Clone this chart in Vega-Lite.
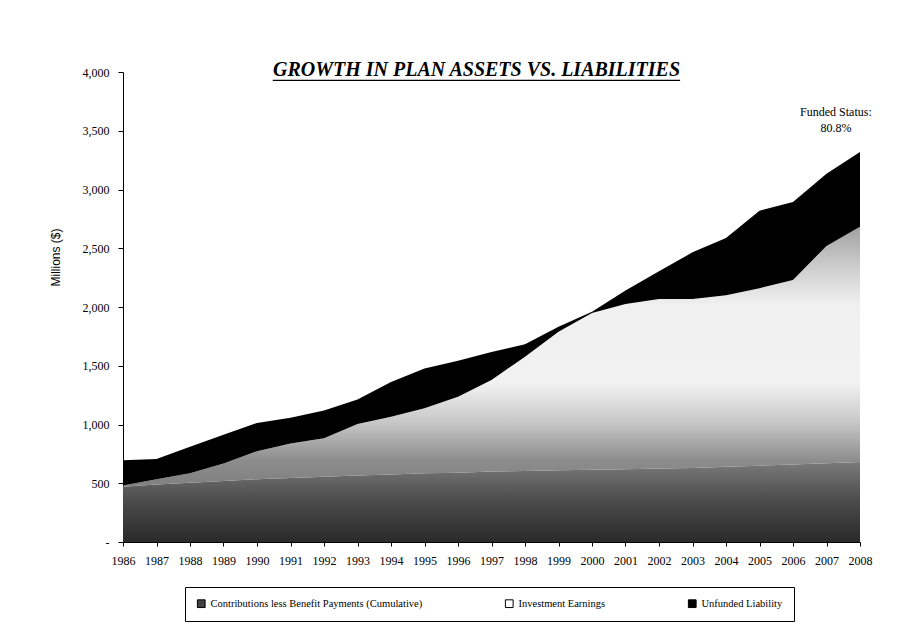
{
  "$schema": "https://vega.github.io/schema/vega-lite/v6.json",
  "width": 737,
  "height": 470,
  "autosize": {"type": "none"},
  "padding": {"left": 123, "top": 72, "right": 63, "bottom": 89},
  "background": "white",
  "config": {"view": {"stroke": null}, "font": "Liberation Serif"},
  "title": {
    "text": "GROWTH IN PLAN ASSETS VS. LIABILITIES",
    "font": "Liberation Serif",
    "fontSize": 20,
    "fontStyle": "italic",
    "fontWeight": "bold",
    "color": "black",
    "anchor": "middle",
    "frame": "group",
    "baseline": "alphabetic",
    "offset": -6,
    "dx": -15,
    "dy": 24
  },
  "resolve": {"axis": {"x": "independent", "y": "independent"}},
  "layer": [
    {
      "data": {
        "values": [
          {"year": 1986, "contrib": 470, "earnings": 10, "unfunded": 215},
          {"year": 1987, "contrib": 490, "earnings": 43, "unfunded": 174},
          {"year": 1988, "contrib": 505, "earnings": 80, "unfunded": 226},
          {"year": 1989, "contrib": 520, "earnings": 148, "unfunded": 245},
          {"year": 1990, "contrib": 535, "earnings": 238, "unfunded": 240},
          {"year": 1991, "contrib": 545, "earnings": 294, "unfunded": 219},
          {"year": 1992, "contrib": 555, "earnings": 327, "unfunded": 238},
          {"year": 1993, "contrib": 565, "earnings": 440, "unfunded": 207},
          {"year": 1994, "contrib": 575, "earnings": 491, "unfunded": 296},
          {"year": 1995, "contrib": 585, "earnings": 553, "unfunded": 338},
          {"year": 1996, "contrib": 590, "earnings": 647, "unfunded": 306},
          {"year": 1997, "contrib": 600, "earnings": 779, "unfunded": 239},
          {"year": 1998, "contrib": 605, "earnings": 972, "unfunded": 105},
          {"year": 1999, "contrib": 610, "earnings": 1180, "unfunded": 42},
          {"year": 2000, "contrib": 615, "earnings": 1335, "unfunded": 10},
          {"year": 2001, "contrib": 620, "earnings": 1405, "unfunded": 115},
          {"year": 2002, "contrib": 625, "earnings": 1443, "unfunded": 237},
          {"year": 2003, "contrib": 630, "earnings": 1438, "unfunded": 397},
          {"year": 2004, "contrib": 640, "earnings": 1460, "unfunded": 487},
          {"year": 2005, "contrib": 650, "earnings": 1510, "unfunded": 660},
          {"year": 2006, "contrib": 660, "earnings": 1570, "unfunded": 663},
          {"year": 2007, "contrib": 670, "earnings": 1850, "unfunded": 615},
          {"year": 2008, "contrib": 680, "earnings": 2003, "unfunded": 637}
        ]
      },
      "transform": [
        {"fold": ["contrib", "earnings", "unfunded"], "as": ["series", "value"]},
        {"stack": "value", "groupby": ["year"], "sort": [{"field": "series", "order": "ascending"}], "as": ["v0", "v1"]}
      ],
      "encoding": {
        "x": {
          "field": "year",
          "type": "quantitative",
          "scale": {"domain": [1986, 2008], "nice": false, "zero": false},
          "axis": {
            "title": null,
            "values": [1986, 1987, 1988, 1989, 1990, 1991, 1992, 1993, 1994, 1995, 1996, 1997, 1998, 1999, 2000, 2001, 2002, 2003, 2004, 2005, 2006, 2007, 2008],
            "tickCount": 23,
            "format": "d",
            "labelFont": "Liberation Serif",
            "labelFontSize": 12,
            "labelColor": "black",
            "labelOverlap": false,
            "labelFlush": false,
            "labelPadding": 9,
            "tickColor": "black",
            "tickSize": 4,
            "domainColor": "black",
            "grid": false
          }
        },
        "y": {
          "field": "v1",
          "type": "quantitative",
          "scale": {"domain": [0, 4000], "nice": false},
          "axis": {
            "title": "Millions ($)",
            "titleFont": "Liberation Sans",
            "titleFontSize": 12,
            "titleFontWeight": "normal",
            "titleColor": "black",
            "titleX": -68,
            "titleY": 185,
            "titleBaseline": "middle",
            "values": [0, 500, 1000, 1500, 2000, 2500, 3000, 3500, 4000],
            "labelExpr": "datum.value == 0 ? '-' : format(datum.value, ',')",
            "labelFont": "Liberation Serif",
            "labelFontSize": 12,
            "labelColor": "black",
            "labelPadding": 9,
            "tickColor": "black",
            "tickSize": 5,
            "domainColor": "black",
            "grid": false
          }
        }
      },
      "layer": [
        {
          "transform": [{"filter": "datum.series == 'contrib'"}],
          "mark": {
            "type": "area",
            "color": {
              "gradient": "linear", "x1": 0, "y1": 0, "x2": 0, "y2": 1,
              "stops": [
                {"offset": 0, "color": "#7a7a7a"},
                {"offset": 0.5, "color": "#4a4a4a"},
                {"offset": 1, "color": "#2a2a2a"}
              ]
            }
          },
          "encoding": {"y2": {"field": "v0"}}
        },
        {
          "transform": [{"filter": "datum.series == 'earnings'"}],
          "mark": {
            "type": "area",
            "color": {
              "gradient": "linear", "x1": 0, "y1": 0, "x2": 0, "y2": 1,
              "stops": [
                {"offset": 0, "color": "#a0a0a0"},
                {"offset": 0.12, "color": "#c4c4c4"},
                {"offset": 0.3, "color": "#f0f0f0"},
                {"offset": 0.6, "color": "#f2f2f2"},
                {"offset": 0.75, "color": "#c8c8c8"},
                {"offset": 0.9, "color": "#8c8c8c"},
                {"offset": 1, "color": "#808080"}
              ]
            }
          },
          "encoding": {"y2": {"field": "v0"}}
        },
        {
          "transform": [{"filter": "datum.series == 'unfunded'"}],
          "mark": {"type": "area", "color": "black"},
          "encoding": {"y2": {"field": "v0"}}
        },
        {
          "mark": {"type": "square", "opacity": 0, "size": 1},
          "encoding": {
            "color": {
              "field": "series",
              "type": "nominal",
              "scale": {"domain": ["contrib", "earnings", "unfunded"], "range": ["#404040", "#ffffff", "#000000"]},
              "legend": {
                "orient": "none",
                "legendX": 62,
                "legendY": 515,
                "direction": "horizontal",
                "title": null,
                "labelExpr": "datum.value == 'contrib' ? 'Contributions less Benefit Payments (Cumulative)' : datum.value == 'earnings' ? 'Investment Earnings' : 'Unfunded Liability'",
                "labelFont": "Liberation Serif",
                "labelFontSize": 10.5,
                "labelColor": "black",
                "labelOffset": 4,
                "labelLimit": 400,
                "symbolType": "square",
                "symbolSize": 60,
                "symbolOpacity": 1,
                "symbolStrokeColor": "black",
                "symbolStrokeWidth": 1,
                "columnPadding": 80,
                "strokeColor": "black",
                "padding": 11
              }
            }
          }
        }
      ]
    },
    {
      "data": {"values": [{"label": "title underline"}]},
      "mark": {"type": "rule", "color": "black", "strokeWidth": 1.3},
      "encoding": {
        "x": {"datum": 1990.47, "type": "quantitative", "axis": null},
        "x2": {"datum": 2002.63},
        "y": {"datum": 3928, "type": "quantitative", "axis": null}
      }
    },
    {
      "data": {"values": [{"label": ["Funded Status:", "80.8%"]}]},
      "mark": {"type": "text", "font": "Liberation Serif", "fontSize": 12, "lineHeight": 16, "align": "center", "baseline": "top", "color": "black"},
      "encoding": {
        "x": {"datum": 2007.28, "type": "quantitative", "axis": null},
        "y": {"datum": 3700, "type": "quantitative", "axis": null},
        "text": {"field": "label"}
      }
    }
  ]
}
